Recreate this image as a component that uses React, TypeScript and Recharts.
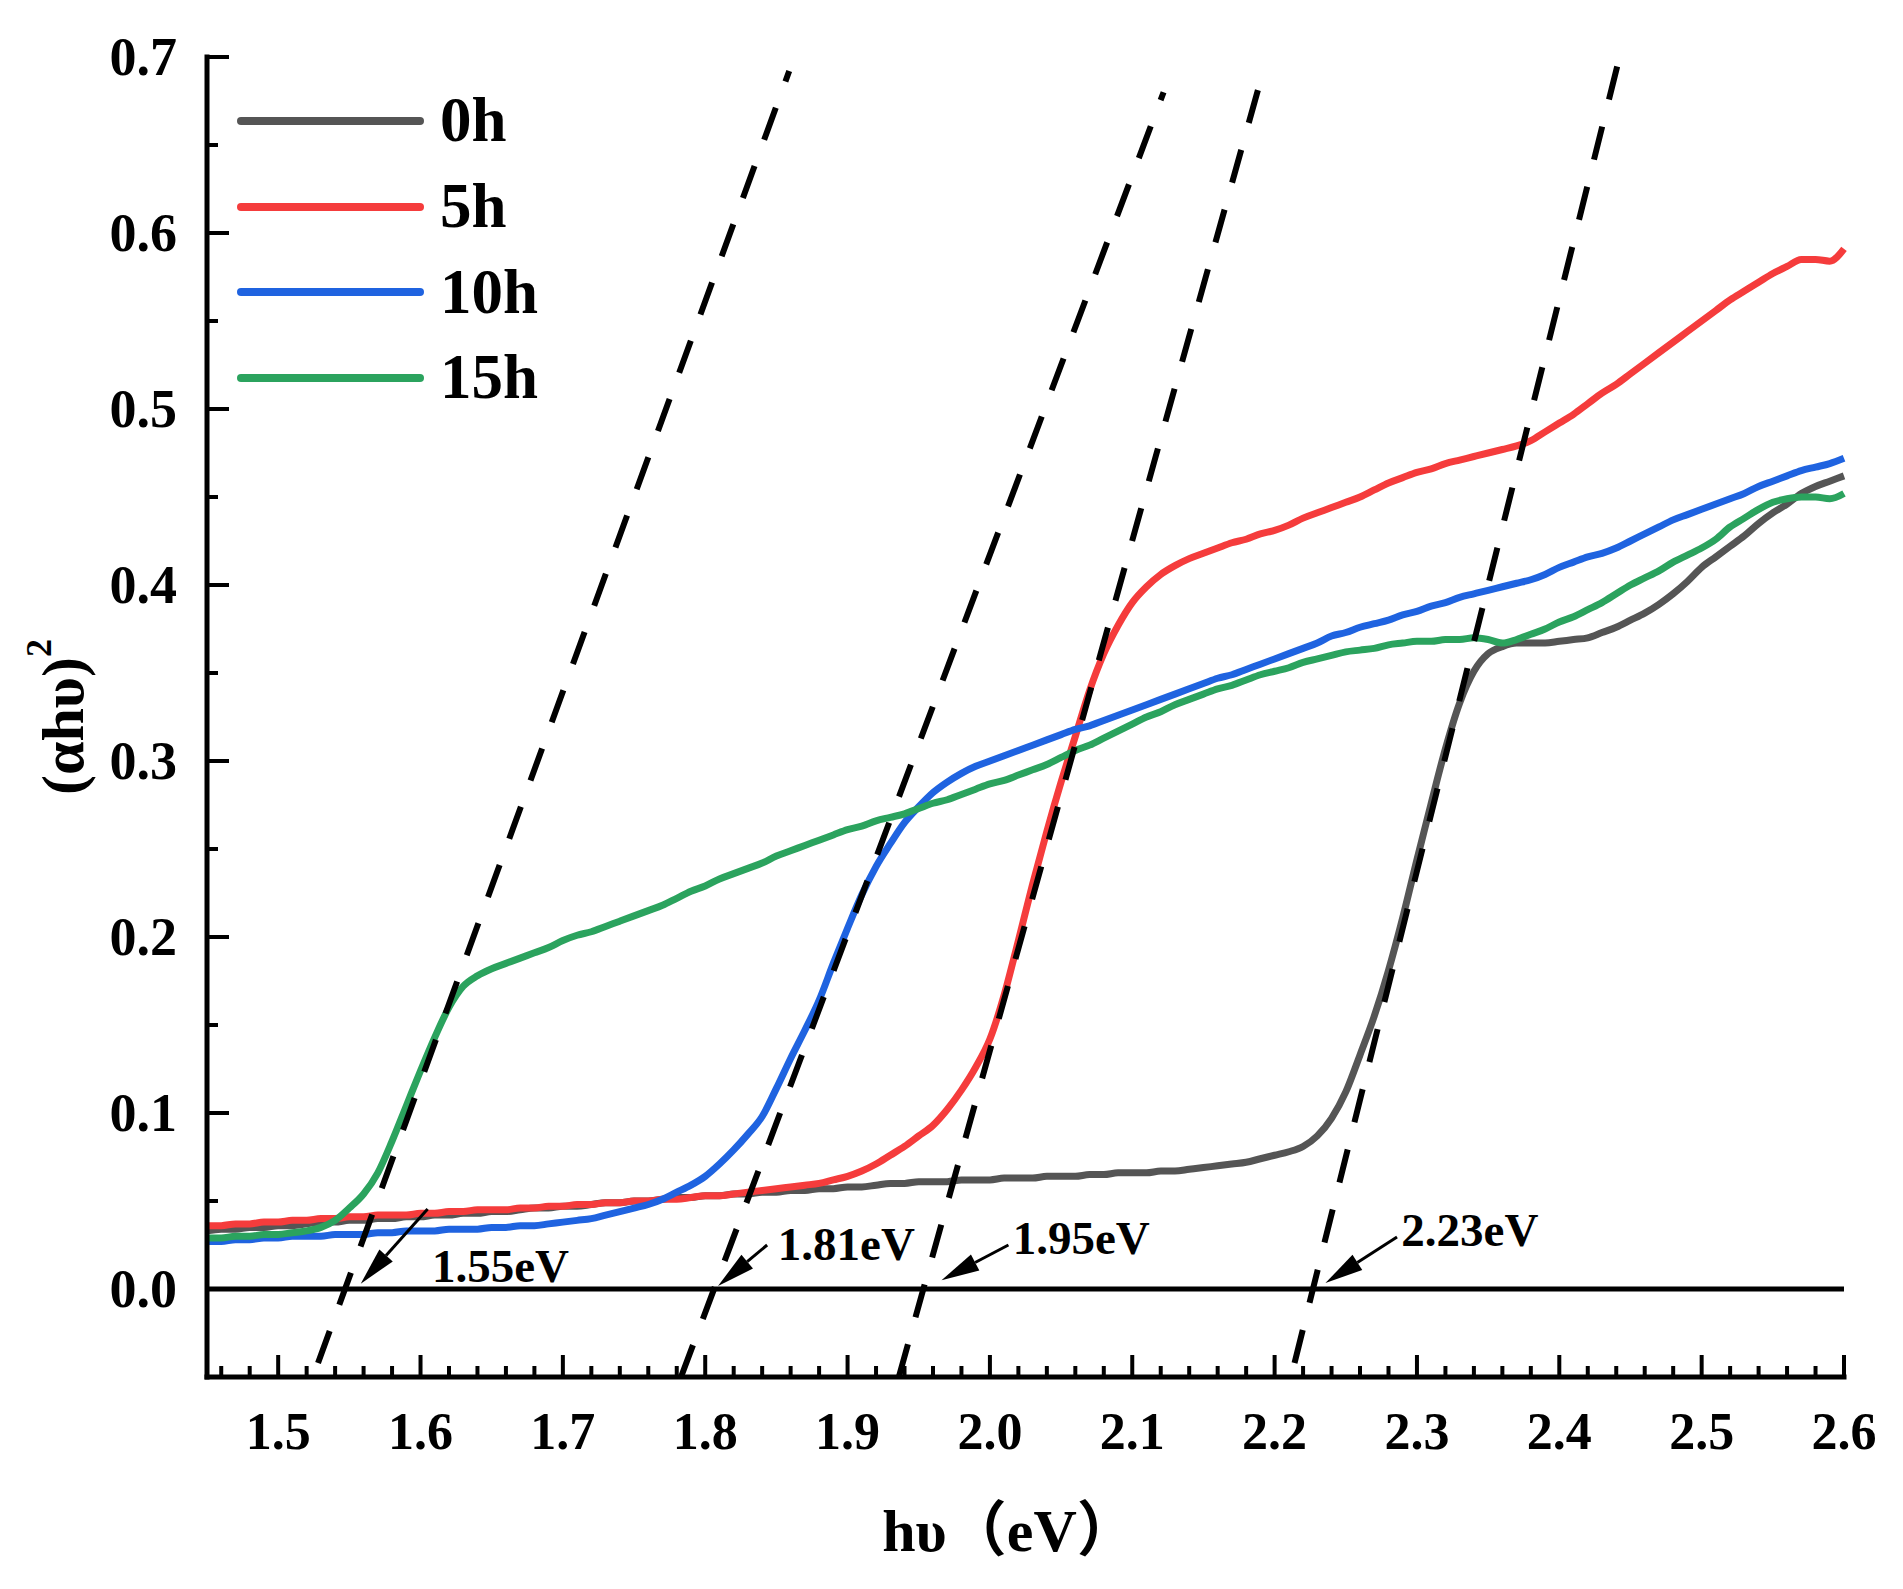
import { LineChart, Line, XAxis, YAxis, ReferenceLine, ReferenceDot, Legend } from 'recharts'

const FONT = "'Liberation Serif', 'Times New Roman', 'Noto Sans CJK SC', serif"

const energy = [
  1.45, 1.46, 1.47, 1.48, 1.49, 1.5, 1.51, 1.52, 1.53, 1.54,
  1.55, 1.56, 1.57, 1.58, 1.59, 1.6, 1.61, 1.62, 1.63, 1.64,
  1.65, 1.66, 1.67, 1.68, 1.69, 1.7, 1.71, 1.72, 1.73, 1.74,
  1.75, 1.76, 1.77, 1.78, 1.79, 1.8, 1.81, 1.82, 1.83, 1.84,
  1.85, 1.86, 1.87, 1.88, 1.89, 1.9, 1.91, 1.92, 1.93, 1.94,
  1.95, 1.96, 1.97, 1.98, 1.99, 2.0, 2.01, 2.02, 2.03, 2.04,
  2.05, 2.06, 2.07, 2.08, 2.09, 2.1, 2.11, 2.12, 2.13, 2.14,
  2.15, 2.16, 2.17, 2.18, 2.19, 2.2, 2.21, 2.22, 2.23, 2.24,
  2.25, 2.26, 2.27, 2.28, 2.29, 2.3, 2.31, 2.32, 2.33, 2.34,
  2.35, 2.36, 2.37, 2.38, 2.39, 2.4, 2.41, 2.42, 2.43, 2.44,
  2.45, 2.46, 2.47, 2.48, 2.49, 2.5, 2.51, 2.52, 2.53, 2.54,
  2.55, 2.56, 2.57, 2.58, 2.59, 2.6,
]

const h0 = [
  0.033, 0.034, 0.034, 0.035, 0.035, 0.036, 0.036, 0.037, 0.038, 0.038,
  0.039, 0.039, 0.04, 0.04, 0.041, 0.041, 0.042, 0.042, 0.043, 0.043,
  0.044, 0.044, 0.045, 0.046, 0.046, 0.047, 0.047, 0.048, 0.049, 0.049,
  0.05, 0.05, 0.051, 0.052, 0.052, 0.053, 0.053, 0.054, 0.054, 0.055,
  0.055, 0.056, 0.056, 0.057, 0.057, 0.058, 0.058, 0.059, 0.06, 0.06,
  0.061, 0.061, 0.061, 0.062, 0.062, 0.062, 0.063, 0.063, 0.063, 0.064,
  0.064, 0.064, 0.065, 0.065, 0.066, 0.066, 0.066, 0.067, 0.067, 0.068,
  0.069, 0.07, 0.071, 0.072, 0.074, 0.076, 0.078, 0.081, 0.087, 0.097,
  0.112, 0.133, 0.155, 0.181, 0.211, 0.244, 0.276, 0.307, 0.333, 0.351,
  0.361, 0.365, 0.367, 0.367, 0.367, 0.368, 0.369, 0.37, 0.373, 0.376,
  0.38, 0.384, 0.389, 0.395, 0.402, 0.41, 0.416, 0.422, 0.428, 0.435,
  0.441, 0.446, 0.452, 0.456, 0.459, 0.462,
]

const h5 = [
  0.036, 0.036, 0.037, 0.037, 0.038, 0.038, 0.039, 0.039, 0.04, 0.04,
  0.041, 0.041, 0.042, 0.042, 0.042, 0.043, 0.043, 0.044, 0.044, 0.045,
  0.045, 0.045, 0.046, 0.046, 0.047, 0.047, 0.048, 0.048, 0.049, 0.049,
  0.05, 0.05, 0.051, 0.051, 0.052, 0.053, 0.053, 0.054, 0.055, 0.056,
  0.057, 0.058, 0.059, 0.06, 0.062, 0.064, 0.067, 0.071, 0.076, 0.081,
  0.087, 0.093, 0.102, 0.113, 0.126, 0.142, 0.167, 0.198, 0.23, 0.26,
  0.288, 0.314, 0.34, 0.361, 0.377, 0.39, 0.399, 0.406, 0.411, 0.415,
  0.418, 0.421, 0.424, 0.426, 0.429, 0.431, 0.434, 0.438, 0.441, 0.444,
  0.447, 0.45, 0.454, 0.458, 0.461, 0.464, 0.466, 0.469, 0.471, 0.473,
  0.475, 0.477, 0.479, 0.482, 0.487, 0.492, 0.497, 0.503, 0.509, 0.514,
  0.52, 0.526, 0.532, 0.538, 0.544, 0.55, 0.556, 0.562, 0.567, 0.572,
  0.577, 0.581, 0.585, 0.585, 0.584, 0.591,
]

const h10 = [
  0.027, 0.027, 0.028, 0.028, 0.029, 0.029, 0.03, 0.03, 0.03, 0.031,
  0.031, 0.031, 0.032, 0.032, 0.033, 0.033, 0.033, 0.034, 0.034, 0.034,
  0.035, 0.035, 0.036, 0.036, 0.037, 0.038, 0.039, 0.04, 0.042, 0.044,
  0.046, 0.048, 0.051, 0.055, 0.059, 0.064, 0.071, 0.079, 0.088, 0.098,
  0.114, 0.131, 0.147, 0.164, 0.185, 0.205, 0.224, 0.24, 0.253, 0.265,
  0.274, 0.282, 0.288, 0.293, 0.297, 0.3, 0.303, 0.306, 0.309, 0.312,
  0.315, 0.318, 0.32, 0.323, 0.326, 0.329, 0.332, 0.335, 0.338, 0.341,
  0.344, 0.347, 0.349, 0.352, 0.355, 0.358, 0.361, 0.364, 0.367, 0.371,
  0.373, 0.376, 0.378, 0.38, 0.383, 0.385, 0.388, 0.39, 0.393, 0.395,
  0.397, 0.399, 0.401, 0.403, 0.406, 0.41, 0.413, 0.416, 0.418, 0.421,
  0.425, 0.429, 0.433, 0.437, 0.44, 0.443, 0.446, 0.449, 0.452, 0.456,
  0.459, 0.462, 0.465, 0.467, 0.469, 0.472,
]

const h15 = [
  0.029, 0.029, 0.03, 0.03, 0.031, 0.031, 0.032, 0.033, 0.035, 0.039,
  0.046, 0.054, 0.066, 0.084, 0.104, 0.124, 0.143, 0.16, 0.172, 0.178,
  0.182, 0.185, 0.188, 0.191, 0.194, 0.198, 0.201, 0.203, 0.206, 0.209,
  0.212, 0.215, 0.218, 0.222, 0.226, 0.229, 0.233, 0.236, 0.239, 0.242,
  0.246, 0.249, 0.252, 0.255, 0.258, 0.261, 0.263, 0.266, 0.268, 0.27,
  0.273, 0.276, 0.278, 0.281, 0.284, 0.287, 0.289, 0.292, 0.295, 0.298,
  0.302, 0.306, 0.309, 0.313, 0.317, 0.321, 0.325, 0.328, 0.332, 0.335,
  0.338, 0.341, 0.343, 0.346, 0.349, 0.351, 0.353, 0.356, 0.358, 0.36,
  0.362, 0.363, 0.364, 0.366, 0.367, 0.368, 0.368, 0.369, 0.369, 0.37,
  0.369, 0.367, 0.369, 0.372, 0.375, 0.379, 0.382, 0.386, 0.39, 0.395,
  0.4, 0.404, 0.408, 0.413, 0.417, 0.421, 0.426, 0.433, 0.438, 0.443,
  0.447, 0.449, 0.45, 0.45, 0.449, 0.452,
]

const seriesNames = ['0h', '5h', '10h', '15h']
const seriesColors = ['#555555', '#f53c3c', '#1f63e0', '#2ba35e']

// extrapolated tangent lines (start, end) and the band gaps they give
const tangentX0 = [1.528, 1.783, 1.936, 2.214]
const tangentY0 = [-0.042, -0.05, -0.05, -0.042]
const tangentX1 = [1.859, 2.122, 2.192, 2.442]
const tangentY1 = [0.692, 0.68, 0.692, 0.699]

const gapLabels = ['1.55eV', '1.81eV', '1.95eV', '2.23eV']
const labelX = [1.608, 1.851, 2.016, 2.289]
const labelY = [0.013, 0.0257, 0.029, 0.0335]
const arrowTailX = [1.605, 1.8435, 2.013, 2.286]
const arrowTailY = [0.0455, 0.025, 0.025, 0.0296]
const arrowTipX = [1.558, 1.809, 1.966, 2.2357]
const arrowTipY = [0.003, 0.0017, 0.005, 0.0034]

const xTicks = [
  1.46, 1.48, 1.5, 1.52, 1.54, 1.56, 1.58, 1.6, 1.62, 1.64, 1.66, 1.68, 1.7, 1.72, 1.74,
  1.76, 1.78, 1.8, 1.82, 1.84, 1.86, 1.88, 1.9, 1.92, 1.94, 1.96, 1.98, 2.0, 2.02, 2.04,
  2.06, 2.08, 2.1, 2.12, 2.14, 2.16, 2.18, 2.2, 2.22, 2.24, 2.26, 2.28, 2.3, 2.32, 2.34,
  2.36, 2.38, 2.4, 2.42, 2.44, 2.46, 2.48, 2.5, 2.52, 2.54, 2.56, 2.58, 2.6,
]
const yTicks = [0, 0.05, 0.1, 0.15, 0.2, 0.25, 0.3, 0.35, 0.4, 0.45, 0.5, 0.55, 0.6, 0.65, 0.7]

const data = energy.map((x, i) => ({ x, h0: h0[i], h5: h5[i], h10: h10[i], h15: h15[i] }))
const seriesKeys = ['h0', 'h5', 'h10', 'h15']

const tangents = tangentX0.map((_, i) => [
  { x: tangentX0[i], y: tangentY0[i] },
  { x: tangentX1[i], y: tangentY1[i] },
])

const TICK_MARGIN = 10
const isMajor = (v: number) => Math.abs(v * 10 - Math.round(v * 10)) < 1e-6

function XTick({ x, y, payload }: any) {
  const v = payload.value
  const major = isMajor(v)
  const axisY = y - TICK_MARGIN
  return (
    <g>
      <line x1={x} x2={x} y1={axisY} y2={axisY - (major ? 22 : 11)} stroke="#000" strokeWidth={4} />
      {major && (
        <text x={x} y={axisY + 54} textAnchor="middle" dominantBaseline="central"
          fontFamily={FONT} fontWeight="bold" fontSize={52} fill="#000">
          {v.toFixed(1)}
        </text>
      )}
    </g>
  )
}

function YTick({ x, y, payload }: any) {
  const v = payload.value
  const major = isMajor(v)
  const axisX = x + TICK_MARGIN
  return (
    <g>
      <line x1={axisX} x2={axisX + (major ? 22 : 11)} y1={y} y2={y} stroke="#000" strokeWidth={4} />
      {major && (
        <text x={axisX - 30} y={y} textAnchor="end" dominantBaseline="central"
          fontFamily={FONT} fontWeight="bold" fontSize={54} fill="#000">
          {v.toFixed(1)}
        </text>
      )}
    </g>
  )
}

function ArrowShape({ x1, y1, x2, y2 }: any) {
  const dx = x2 - x1
  const dy = y2 - y1
  const len = Math.hypot(dx, dy)
  const ux = dx / len
  const uy = dy / len
  const headLen = 38
  const headW = 9
  const bx = x2 - ux * headLen
  const by = y2 - uy * headLen
  return (
    <g>
      <line x1={x1} y1={y1} x2={bx} y2={by} stroke="#000" strokeWidth={3} />
      <polygon
        points={`${x2},${y2} ${bx - uy * headW},${by + ux * headW} ${bx + uy * headW},${by - ux * headW}`}
        fill="#000"
      />
    </g>
  )
}

function LegendBox({ payload }: any) {
  const items = (payload ?? [])
    .filter((e: any) => seriesNames.includes(e.value))
    .sort((a: any, b: any) => seriesNames.indexOf(a.value) - seriesNames.indexOf(b.value))
  return (
    <div style={{ display: 'flex', flexDirection: 'column' }}>
      {items.map((e: any) => (
        <div key={e.value} style={{ display: 'flex', alignItems: 'center', height: 85.7 }}>
          <div style={{ width: 187, height: 8, borderRadius: 4, background: e.color }} />
          <span style={{ marginLeft: 16, fontFamily: FONT, fontWeight: 'bold', fontSize: 63, lineHeight: 1, color: '#000' }}>
            {e.value}
          </span>
        </div>
      ))}
    </div>
  )
}

export default function App() {
  const axisLine = { stroke: '#000', strokeWidth: 5, strokeLinecap: 'square' as const }
  return (
    <LineChart width={1880} height={1570} data={data} margin={{ top: 49, right: 44, bottom: 51, left: 49 }}>
      <XAxis
        dataKey="x"
        type="number"
        domain={[1.45, 2.6]}
        ticks={xTicks}
        interval={0}
        tickSize={0}
        tickMargin={TICK_MARGIN}
        tickLine={false}
        tick={<XTick />}
        height={150}
        axisLine={axisLine}
        label={(p: any) => (
          <text
            x={p.viewBox.x + p.viewBox.width / 2 - 16}
            y={p.viewBox.y + 154}
            textAnchor="middle"
            dominantBaseline="central"
            fontFamily={FONT}
            fontWeight="bold"
            fontSize={60}
            fill="#000"
          >
            hυ（eV）
          </text>
        )}
      />
      <XAxis xAxisId="top" orientation="top" type="number" domain={[1.45, 2.6]} height={0}
        tick={false} tickLine={false} axisLine={axisLine} />
      <YAxis
        type="number"
        domain={[-0.05, 0.7]}
        ticks={yTicks}
        interval={0}
        tickSize={0}
        tickMargin={TICK_MARGIN}
        tickLine={false}
        tick={<YTick />}
        width={150}
        axisLine={axisLine}
        label={(p: any) => {
          const cx = p.viewBox.x + 6
          const cy = p.viewBox.y + p.viewBox.height / 2
          return (
            <text
              x={cx}
              y={cy}
              transform={`rotate(-90 ${cx} ${cy})`}
              textAnchor="middle"
              dominantBaseline="central"
              fontFamily={FONT}
              fontWeight="bold"
              fontSize={60}
              fill="#000"
            >
              (αhυ)<tspan dy={-24} fontSize={36}>2</tspan>
            </text>
          )
        }}
      />
      <YAxis yAxisId="right" orientation="right" type="number" domain={[-0.05, 0.7]} width={0}
        tick={false} tickLine={false} axisLine={axisLine} />

      <ReferenceLine y={0} stroke="#000" strokeWidth={5} />

      {seriesKeys.map((k, i) => (
        <Line
          key={k}
          dataKey={k}
          name={seriesNames[i]}
          type="monotone"
          stroke={seriesColors[i]}
          strokeWidth={7}
          dot={false}
          activeDot={false}
          isAnimationActive={false}
        />
      ))}

      {tangents.map((pts, i) => (
        <Line
          key={`t${i}`}
          data={pts}
          dataKey="y"
          name={`tangent${i}`}
          type="linear"
          stroke="#000"
          strokeWidth={6}
          strokeDasharray="34 28"
          dot={false}
          activeDot={false}
          legendType="none"
          isAnimationActive={false}
        />
      ))}

      {gapLabels.map((_, i) => (
        <ReferenceLine
          key={`a${i}`}
          segment={[
            { x: arrowTailX[i], y: arrowTailY[i] },
            { x: arrowTipX[i], y: arrowTipY[i] },
          ]}
          shape={ArrowShape}
        />
      ))}

      {gapLabels.map((txt, i) => (
        <ReferenceDot
          key={`l${i}`}
          x={labelX[i]}
          y={labelY[i]}
          r={0}
          shape={(p: any) => (
            <text x={p.cx} y={p.cy} dominantBaseline="central" fontFamily={FONT} fontWeight="bold"
              fontSize={47} fill="#000">
              {txt}
            </text>
          )}
        />
      ))}

      <Legend
        layout="vertical"
        align="center"
        verticalAlign="middle"
        wrapperStyle={{ left: 229, top: 70, width: 500 }}
        content={<LegendBox />}
      />
    </LineChart>
  )
}
